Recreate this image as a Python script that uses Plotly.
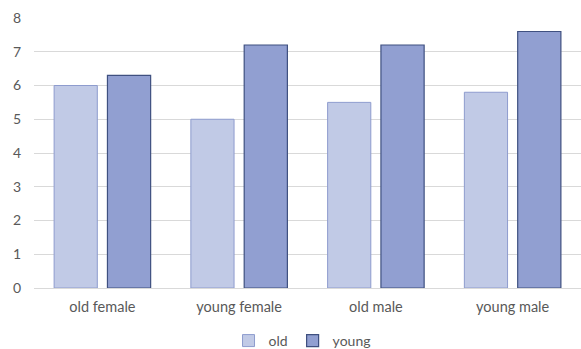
import plotly.graph_objects as go

categories = ["old female", "young female", "old male", "young male"]
old_values = [6.0, 5.0, 5.5, 5.8]
young_values = [6.3, 7.2, 7.2, 7.6]
y_ticks = [0, 1, 2, 3, 4, 5, 6, 7, 8]

FONT = "Lato, 'Open Sans', sans-serif"
TEXT = "#595959"

fig = go.Figure()
fig.add_trace(go.Bar(
    name="old", x=categories, y=old_values,
    marker=dict(color="#c1cae6", line=dict(color="#8e9cce", width=1)),
))
fig.add_trace(go.Bar(
    name="young", x=categories, y=young_values,
    marker=dict(color="#919fd1", line=dict(color="#3f5080", width=1.2)),
))

fig.update_layout(
    width=581, height=349,
    margin=dict(l=34, r=0, t=18, b=61, autoexpand=False),
    paper_bgcolor="white", plot_bgcolor="white",
    barmode="group", bargap=0.22, bargroupgap=0.19,
    font=dict(family=FONT, size=14, color=TEXT),
    showlegend=True,
    legend=dict(
        orientation="h", x=0.49, xanchor="center",
        yref="container", y=0.023, yanchor="middle",
        font=dict(family=FONT, size=14, color=TEXT),
        itemwidth=30, traceorder="normal",
    ),
    xaxis=dict(
        showgrid=False, showline=False, zeroline=False,
        ticks="", tickfont=dict(size=14.5, color=TEXT),
        ticklabelstandoff=8,
    ),
    yaxis=dict(
        range=[0, 8], tickvals=y_ticks,
        showgrid=True, gridcolor="#d9d9d9", gridwidth=1,
        zeroline=True, zerolinecolor="#d9d9d9", zerolinewidth=1,
        showline=False, ticks="",
        tickfont=dict(size=14, color=TEXT),
        ticklabelstandoff=12,
    ),
)

fig.write_html("out.html")
